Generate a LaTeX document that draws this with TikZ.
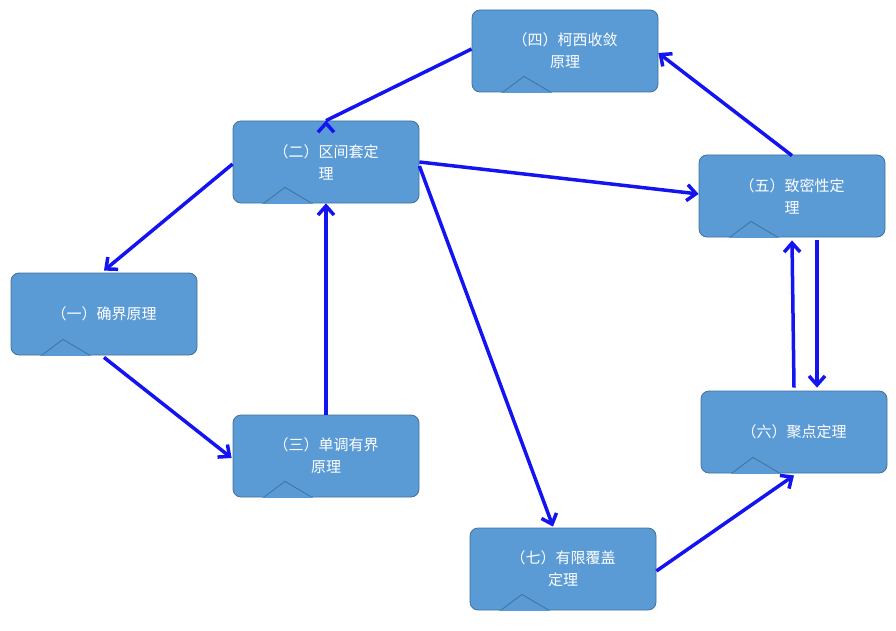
\documentclass[tikz,border=0pt]{standalone}
\usepackage{fontspec}
\setmainfont{Noto Sans CJK SC}
\usetikzlibrary{arrows.meta}
\definecolor{boxfill}{RGB}{91,155,213}
\definecolor{boxline}{RGB}{65,113,156}
\definecolor{arrowblue}{RGB}{20,20,240}
\tikzset{
  theorem/.style={draw=boxline, line width=0.8pt, fill=boxfill, rounded corners=8pt,
    minimum width=186pt, minimum height=82pt, align=center, text=white,
    font=\fontsize{15pt}{22pt}\selectfont, inner sep=0pt},
  link/.style={draw=arrowblue, line width=3.5pt, -{Straight Barb[length=9pt,width=16pt]}},
}
\newcommand{\tail}[1]{% pointer under a box
  \fill[boxfill, draw=boxline, line width=0.8pt]
    ($(#1.south west)!0.17!(#1.south east)+(0,-0.6)$) -- ($(#1.south west)!0.28!(#1.south east)+(0,-16)$)
    -- ($(#1.south west)!0.42!(#1.south east)+(0,-0.6)$);
  \fill[boxfill] ($(#1.south west)!0.16!(#1.south east)+(0,0.8)$) rectangle ($(#1.south west)!0.43!(#1.south east)+(0,-0.4)$);
}
\usetikzlibrary{calc}
\begin{document}
\begin{tikzpicture}[x=1pt,y=-1pt]
\useasboundingbox (0,0) rectangle (896,631);

% boxes
\node[theorem] (four)  at (565,51)  {（四）柯西收敛\\原理};
\node[theorem] (two)   at (326,162) {（二）区间套定\\理};
\node[theorem] (five)  at (792,196) {（五）致密性定\\理};
\node[theorem] (one)   at (104,314) {（一）确界原理};
\node[theorem] (three) at (326,456) {（三）单调有界\\原理};
\node[theorem] (six)   at (794,432) {（六）聚点定理};
\node[theorem] (seven) at (563,569) {（七）有限覆盖\\定理};
\foreach \b in {four,two,five,one,three,six,seven} {\tail{\b}}

% arrows
\draw[link] (four.west) ++(0,-2) -- (two.north) ++(0,0);
\draw[link] ($(two.west)+(0,2)$) -- ($(one.north)+(0,-2)$);
\draw[link] ($(one.south)+(0,2)$) -- ($(three.west)+(-1,2)$);
\draw[link] (three.north) -- (two.south);
\draw[link] (two.east) -- ($(five.west)+(0,-2)$);
\draw[link] ($(two.east)+(0,4)$) -- ($(seven.north)+(-10,-1)$);
\draw[link] ($(seven.east)+(0,2)$) -- ($(six.south)+(0,2)$);
\draw[link] ($(six.north)+(0,-3)$) -- ($(five.south)+(0,3)$);
\draw[link] ($(five.south)+(25,3)$) -- ($(six.north)+(23,-3)$);
\draw[link] ($(five.north)+(0,1)$) -- ($(four.east)+(0,2)$);
\end{tikzpicture}
\end{document}
